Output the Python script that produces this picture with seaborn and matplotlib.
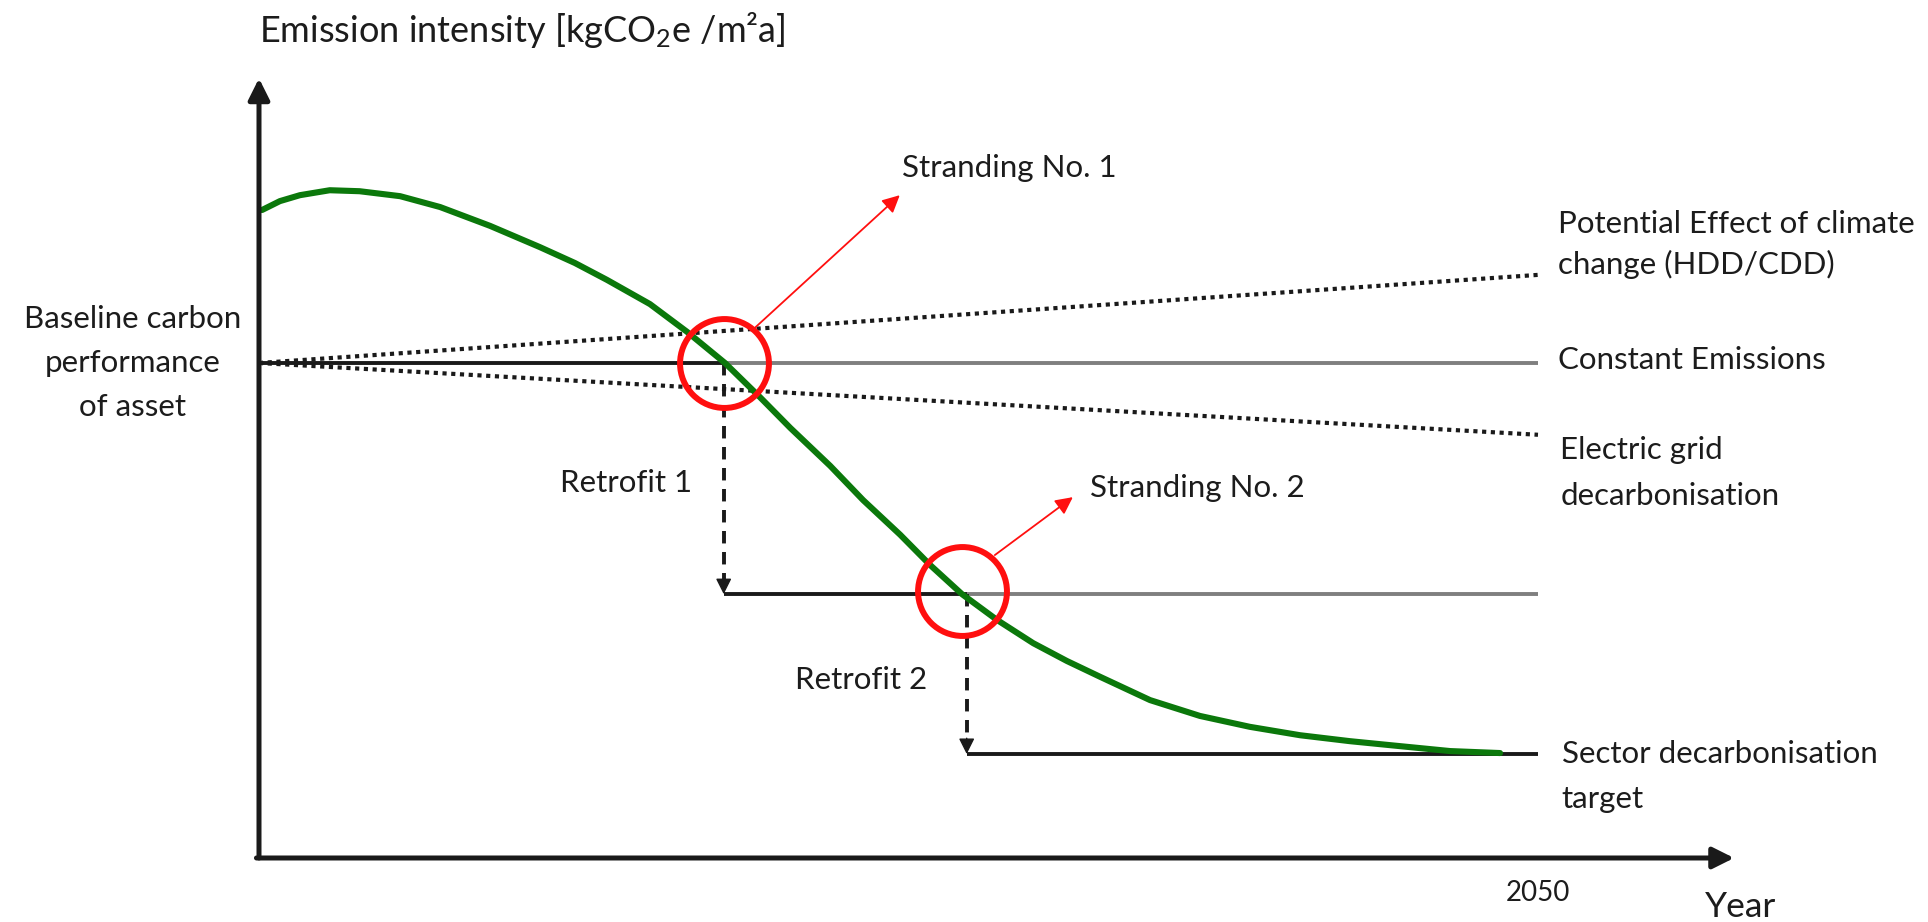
import numpy as np
import matplotlib
matplotlib.use("Agg")
import matplotlib.pyplot as plt
import seaborn as sns

# green emission-intensity path of the asset
curve_year = [2020.07, 2020.49, 2020.96, 2021.66, 2022.36, 2023.31, 2024.25, 2025.42,
              2026.59, 2027.41, 2028.16, 2029.17, 2030.04, 2030.93, 2031.75, 2032.46,
              2033.40, 2034.17, 2035.04, 2035.74, 2036.49, 2037.31, 2038.16, 2038.95,
              2039.73, 2040.90, 2042.07, 2043.24, 2044.42, 2045.59, 2046.76, 2047.94,
              2049.11]
curve_emis = [130.9, 132.7, 133.9, 134.9, 134.7, 133.7, 131.5, 127.7,
              123.4, 120.2, 116.8, 111.9, 106.3, 100.0, 93.1, 86.9,
              79.2, 72.3, 65.3, 59.2, 53.3, 48.1, 43.4, 39.8,
              36.6, 31.9, 28.7, 26.5, 24.8, 23.6, 22.6, 21.6,
              21.2]

start_year = 2020
end_year = 2050
baseline = 100.0
climate_end = 117.8      # potential effect of climate change
grid_end = 85.5          # electric grid decarbonisation
retrofit_years = [2030.9, 2036.6]
retrofit_levels = [53.3, 21.0]
stranding_years = [2030.9, 2036.5]
stranding_emis = [100.0, 54.0]
stranding_labels = ["Stranding No. 1", "Stranding No. 2"]
retrofit_labels = ["Retrofit 1", "Retrofit 2"]

sns.set_theme(style="white")
plt.rcParams['font.family'] = ['Lato', 'DejaVu Sans']
plt.rcParams['mathtext.fontset'] = 'custom'
plt.rcParams['mathtext.rm'] = 'Lato'
plt.rcParams['mathtext.default'] = 'regular'

txt = '#1c1c1c'
green = '#0b780b'
red = '#ff0f0f'
grey = '#7f7f7f'

fig = plt.figure(figsize=(19.28, 9.22), dpi=100)
ax = fig.add_axes([0, 0, 1, 1])
ax.set_xlim(2013.925, 2059.148)
ax.set_ylim(-12.93, 173.33)
ax.axis('off')

# axes arrows
ax.annotate('', xy=(start_year, 157.5), xytext=(start_year, 0),
            arrowprops=dict(arrowstyle='-|>', color='k', lw=3.6, mutation_scale=32,
                            shrinkA=0, shrinkB=0))
ax.annotate('', xy=(2054.6, 0), xytext=(start_year - 0.06, 0),
            arrowprops=dict(arrowstyle='-|>', color='k', lw=3.6, mutation_scale=32,
                            shrinkA=0, shrinkB=0))

# scenario lines from the baseline
ax.plot([start_year, end_year], [baseline, climate_end], color='k', lw=3,
        linestyle=(0, (1, 1.1)), dash_capstyle='butt')
ax.plot([start_year, end_year], [baseline, grid_end], color='k', lw=3,
        linestyle=(0, (1, 1.1)), dash_capstyle='butt')

# constant emissions / retrofit levels
levels = [baseline] + retrofit_levels
starts = [start_year] + retrofit_years
for i, lev in enumerate(levels):
    stop = retrofit_years[i] if i < len(retrofit_years) else end_year
    ax.plot([starts[i], stop], [lev, lev], color='k', lw=2.8, solid_capstyle='butt')
    if stop < end_year:
        ax.plot([stop, end_year], [lev, lev], color=grey, lw=2.8, solid_capstyle='butt')

# dashed retrofit drops
for i, yr in enumerate(retrofit_years):
    top = levels[i]
    bottom = retrofit_levels[i]
    ax.plot([yr, yr], [top, bottom + 2.5], color='k', lw=2.8,
            linestyle=(0, (3.2, 2.2)))
    ax.annotate('', xy=(yr, bottom), xytext=(yr, bottom + 3.2),
                arrowprops=dict(arrowstyle='-|>', color='k', lw=1, mutation_scale=24,
                                shrinkA=0, shrinkB=0))

# asset emission curve
sns.lineplot(x=curve_year, y=curve_emis, ax=ax, color=green, lw=4.4)

# stranding circles and arrows
ax.plot(stranding_years, stranding_emis, linestyle='none', marker='o', markersize=64,
        markerfacecolor='none', markeredgecolor=red, markeredgewidth=4.3)
arrow_from = [(2031.63, 107.1), (2037.26, 61.2)]
arrow_to = [(2035.03, 133.9), (2039.09, 72.9)]
for a, b in zip(arrow_from, arrow_to):
    ax.annotate('', xy=b, xytext=a,
                arrowprops=dict(arrowstyle='-|>', color=red, lw=1.3, mutation_scale=26,
                                shrinkA=0, shrinkB=0))

fs = 22.5
ax.text(2020.0, 167.3, "Emission intensity [kgCO$_2$e /m²a]", fontsize=26,
        color=txt, ha='left', va='center')
ax.text(2017.04, 100, "Baseline carbon\nperformance\nof asset", fontsize=fs,
        color=txt, ha='center', va='center', linespacing=1.7)
ax.text(2035.08, 139.4, stranding_labels[0], fontsize=fs, color=txt, va='center')
ax.text(2039.49, 74.7, stranding_labels[1], fontsize=fs, color=txt, va='center')
ax.text(2027.06, 75.8, retrofit_labels[0], fontsize=fs, color=txt, va='center')
ax.text(2032.57, 36.0, retrofit_labels[1], fontsize=fs, color=txt, va='center')
ax.text(2050.47, 123.9, "Potential Effect of climate\nchange (HDD/CDD)", fontsize=fs,
        color=txt, va='center', linespacing=1.49)
ax.text(2050.47, 100.6, "Constant Emissions", fontsize=fs, color=txt, va='center')
ax.text(2050.52, 77.7, "Electric grid\ndecarbonisation", fontsize=fs, color=txt,
        va='center', linespacing=1.79)
ax.text(2050.56, 16.5, "Sector decarbonisation\ntarget", fontsize=fs, color=txt,
        va='center', linespacing=1.75)
ax.text(end_year, -7.1, "2050", fontsize=20, color=txt, ha='center', va='center')
ax.text(2054.76, -10.0, "Year", fontsize=25.5, color=txt, ha='center', va='center')

fig.savefig("out.png", dpi=100)
